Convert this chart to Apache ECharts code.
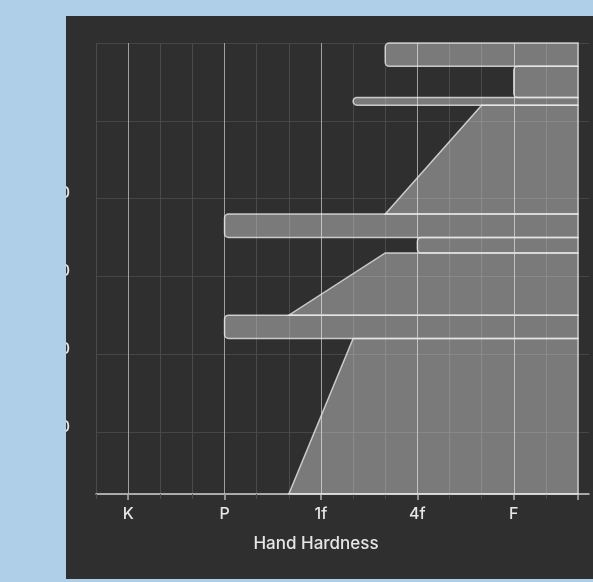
<!DOCTYPE html>
<html>
<head>
<meta charset="utf-8">
<script src="https://cdn.jsdelivr.net/npm/echarts@6/dist/echarts.min.js"></script>
<style>
  html, body { margin: 0; padding: 0; background: #afcee7; width: 593px; height: 582px; overflow: hidden; }
  #chart { position: absolute; left: 66px; top: 16px; width: 527px; height: 563px; background: #2f2f2f; }
</style>
</head>
<body>
<div id="chart"></div>
<script>
// Hardness scale positions (left = hard, right = soft)
const hardnessLabelValues = [1, 4, 7, 10, 13];
const hardnessLabels = ['K', 'P', '1f', '4f', 'F'];
const hardnessScaleEnd = 15;      // soft end where layers are anchored
const hardnessAxisMax = 15.34;

// Depth ticks (cm)
const depthMin = 0;
const depthMax = 58;
const depthInterval = 10;
const depthLabeledFrom = 20;

// Layers
const layerTop    = [0, 3, 7, 8, 22, 25, 27, 35, 38];
const layerBottom = [3, 7, 8, 22, 25, 27, 35, 38, 58];
const hardTop     = [9, 13, 8, 12, 4, 10, 9, 4, 8];
const hardBottom  = [9, 13, 8, 9, 4, 10, 6, 4, 6];

const layerData = layerTop.map((t, i) => [t, layerBottom[i], hardTop[i], hardBottom[i]]);

const allTicks = [];
for (let v = 0; v <= hardnessScaleEnd; v++) allTicks.push(v);
const majorTicks = hardnessLabelValues.concat([hardnessScaleEnd]);

const chart = echarts.init(document.getElementById('chart'));
const FILL = 'rgba(255,255,255,0.36)';
const STROKE = 'rgba(232,232,232,0.8)';
const FONT = 'Inter, "Liberation Sans", sans-serif';

chart.setOption({
  animation: false,
  grid: { left: 30, top: 27, right: 4, bottom: 85, outerBoundsMode: 'none', containLabel: false },
  xAxis: [{
    type: 'value',
    min: 0, max: hardnessAxisMax, interval: 1,
    position: 'bottom',
    axisLine: { show: true, onZero: false, lineStyle: { color: '#cfcfcf', width: 1.5 } },
    axisTick: { show: true, customValues: allTicks, length: 5, lineStyle: { color: '#4c4c4c', width: 1 } },
    axisLabel: {
      customValues: hardnessLabelValues,
      formatter: v => hardnessLabels[hardnessLabelValues.indexOf(Math.round(v))] || '',
      color: '#e6e6e6', fontSize: 16, fontWeight: 500, margin: 12, fontFamily: FONT
    },
    splitLine: {
      show: true, showMaxLine: false,
      lineStyle: { color: ['#4a4a4a', '#a0a0a0', '#4a4a4a'], width: 1 }
    },
    name: 'Hand Hardness',
    nameLocation: 'middle',
    nameGap: 41,
    nameTextStyle: { color: '#e6e6e6', fontSize: 17, fontWeight: 500, padding: [0, 53, 0, 0], fontFamily: FONT }
  }, {
    type: 'value',
    min: 0, max: hardnessAxisMax, interval: 1,
    position: 'bottom', offset: 0,
    axisLine: { show: false, onZero: false },
    axisTick: { show: true, customValues: majorTicks, length: 6, lineStyle: { color: '#b0b0b0', width: 1.5 } },
    axisLabel: { show: false },
    splitLine: { show: false }
  }],
  yAxis: {
    type: 'value',
    inverse: true,
    min: depthMin, max: depthMax, interval: depthInterval,
    axisLine: { show: false },
    axisTick: { show: false },
    axisLabel: {
      color: '#e6e6e6', fontSize: 16, fontWeight: 500, margin: 26, fontFamily: FONT,
      verticalAlign: 'bottom', lineHeight: 10,
      formatter: v => (v >= depthLabeledFrom && v <= depthMax - 5) ? String(v) : ''
    },
    splitLine: { show: true, lineStyle: { color: '#464646', width: 1 } }
  },
  series: [{
    type: 'custom',
    xAxisIndex: 0,
    clip: false,
    data: layerData,
    encode: { x: [2, 3], y: [0, 1] },
    renderItem: function (params, api) {
      const top = api.value(0), bot = api.value(1), ht = api.value(2), hb = api.value(3);
      const pTR = api.coord([hardnessScaleEnd, top]);
      const pTL = api.coord([ht, top]);
      const pBL = api.coord([hb, bot]);
      const pBR = api.coord([hardnessScaleEnd, bot]);
      const style = { fill: FILL, stroke: STROKE, lineWidth: 1.5 };
      if (ht === hb) {
        const h = pBL[1] - pTL[1];
        const r = Math.min(4, h / 2);
        return {
          type: 'rect',
          shape: { x: pTL[0], y: pTL[1], width: pTR[0] - pTL[0], height: h, r: [r, 0, 0, r] },
          style: style
        };
      }
      return {
        type: 'polygon',
        shape: { points: [pTR, pTL, pBL, pBR] },
        style: style
      };
    }
  }]
});
</script>
</body>
</html>
